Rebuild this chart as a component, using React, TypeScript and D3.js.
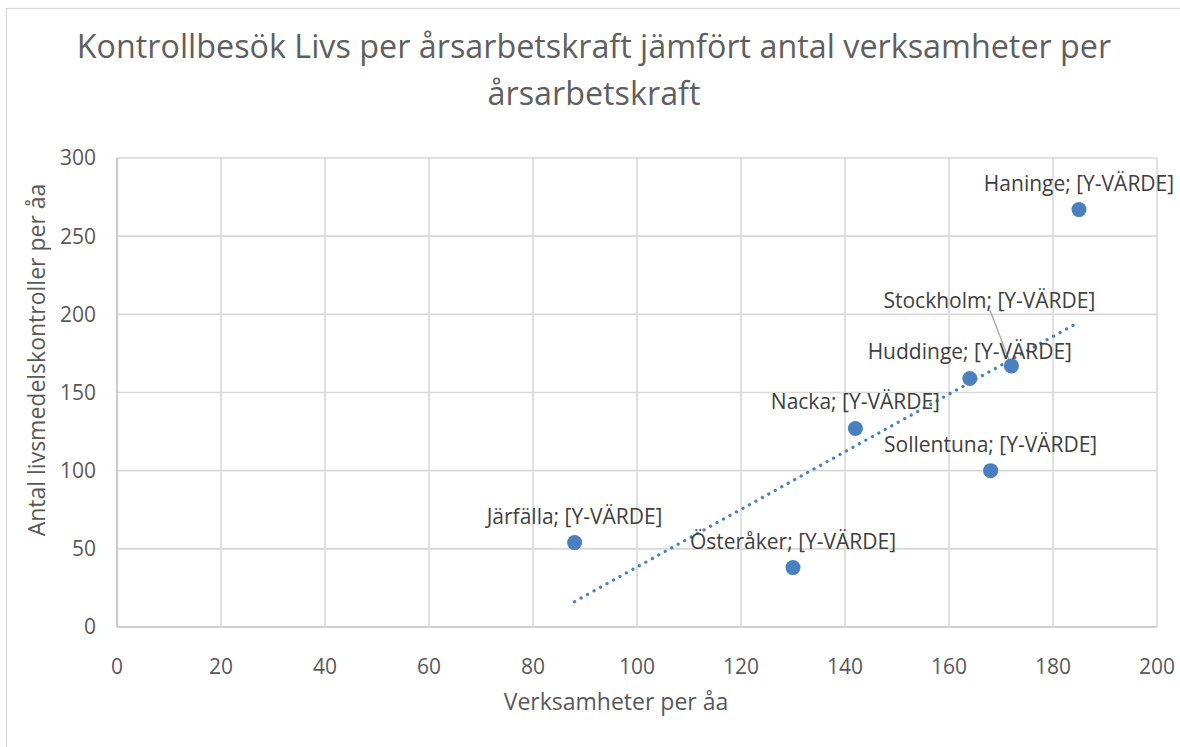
import React from "react";
import * as d3 from "d3";

const names = ["Haninge", "Stockholm", "Huddinge", "Nacka", "Sollentuna", "Järfälla", "Österåker"];
const xValues = [185, 172, 164, 142, 168, 88, 130];
const yValues = [267, 167, 159, 127, 100, 54, 38];
const xTicks = [0, 20, 40, 60, 80, 100, 120, 140, 160, 180, 200];
const yTicks = [0, 50, 100, 150, 200, 250, 300];
const titleLines = ["Kontrollbesök Livs per årsarbetskraft jämfört antal verksamheter per", "årsarbetskraft"];
const xTitle = "Verksamheter per åa";
const yTitle = "Antal livsmedelskontroller per åa";
const labelSuffix = "; [Y-VÄRDE]";

// label offsets (layout, not data)
const labelOffsets: Record<string, [number, number]> = {
  Stockholm: [-22, -58],
};

const W = 1180;
const H = 747;
const FONT = "'Open Sans', sans-serif";
const BLUE = "#4a7fc0";

export default function App() {
  const x = d3.scaleLinear().domain([0, 200]).range([117, 1157]);
  const y = d3.scaleLinear().domain([0, 300]).range([627, 158]);

  const pts = names.map((n, i) => ({ name: n, x: xValues[i], y: yValues[i] }));
  const mx = d3.mean(xValues)!;
  const my = d3.mean(yValues)!;
  const sxy = d3.sum(pts, (p) => (p.x - mx) * (p.y - my));
  const sxx = d3.sum(pts, (p) => (p.x - mx) ** 2);
  const slope = sxy / sxx;
  const icpt = my - slope * mx;
  const [x0, x1] = d3.extent(xValues) as [number, number];
  const trend = d3.line<number>().x((v) => x(v)).y((v) => y(icpt + slope * v));

  return (
    <div style={{ position: "absolute", left: 0, top: 0, width: W, height: H, overflow: "hidden", background: "#fff" }}>
      <svg width={W} height={H} style={{ display: "block", fontFamily: FONT }}>
        <rect x={0} y={0} width={W} height={H} fill="#fff" />
        <rect x={6.5} y={8.5} width={W + 20} height={H + 20} fill="none" stroke="#d9d9d9" strokeWidth={1.3} />
        {/* title */}
        {titleLines.map((t, i) => (
          <text key={i} x={594} y={58 + i * 47} textAnchor="middle" fontSize={32.3} fill="#5f5f5f">
            {t}
          </text>
        ))}
        {/* gridlines */}
        {yTicks.map((t) => (
          <line key={"gy" + t} x1={x(0)} x2={x(200)} y1={y(t)} y2={y(t)} stroke={t === 0 ? "#bfbfbf" : "#d9d9d9"} strokeWidth={1.6} />
        ))}
        {xTicks.map((t) => (
          <line key={"gx" + t} x1={x(t)} x2={x(t)} y1={y(0)} y2={y(300)} stroke={t === 0 ? "#bfbfbf" : "#d9d9d9"} strokeWidth={1.6} />
        ))}
        {/* tick labels */}
        {yTicks.map((t) => (
          <text key={"ty" + t} x={96} y={y(t)} dy="0.35em" textAnchor="end" fontSize={21} fill="#595959">
            {t}
          </text>
        ))}
        {xTicks.map((t) => (
          <text key={"tx" + t} x={x(t)} y={667} dy="0.35em" textAnchor="middle" fontSize={21} fill="#595959">
            {t}
          </text>
        ))}
        {/* axis titles */}
        <text x={616} y={710} textAnchor="middle" fontSize={23} fill="#595959">
          {xTitle}
        </text>
        <text transform="translate(45,360) rotate(-90)" textAnchor="middle" fontSize={23} fill="#595959">
          {yTitle}
        </text>
        {/* trendline */}
        <path d={trend([x0, x1]) || ""} fill="none" stroke={BLUE} strokeWidth={3.2} strokeLinecap="round" strokeDasharray="0.1 7.3" />
        {/* leader lines */}
        {pts.map((p) => {
          const off = labelOffsets[p.name];
          if (!off) return null;
          return (
            <line key={"ll" + p.name} x1={x(p.x) + off[0] + 0.5} y1={y(p.y) + off[1] + 2} x2={x(p.x)} y2={y(p.y)} stroke="#a6a6a6" strokeWidth={1.3} />
          );
        })}
        {/* points */}
        {pts.map((p) => (
          <circle key={"c" + p.name} cx={x(p.x)} cy={y(p.y)} r={7.5} fill={BLUE} />
        ))}
        {/* labels */}
        {pts.map((p) => {
          const off = labelOffsets[p.name] || [0, -19];
          return (
            <text key={"l" + p.name} x={x(p.x) + off[0]} y={y(p.y) + off[1]} textAnchor="middle" fontSize={21} fill="#404040">
              {p.name + labelSuffix}
            </text>
          );
        })}
      </svg>
    </div>
  );
}
